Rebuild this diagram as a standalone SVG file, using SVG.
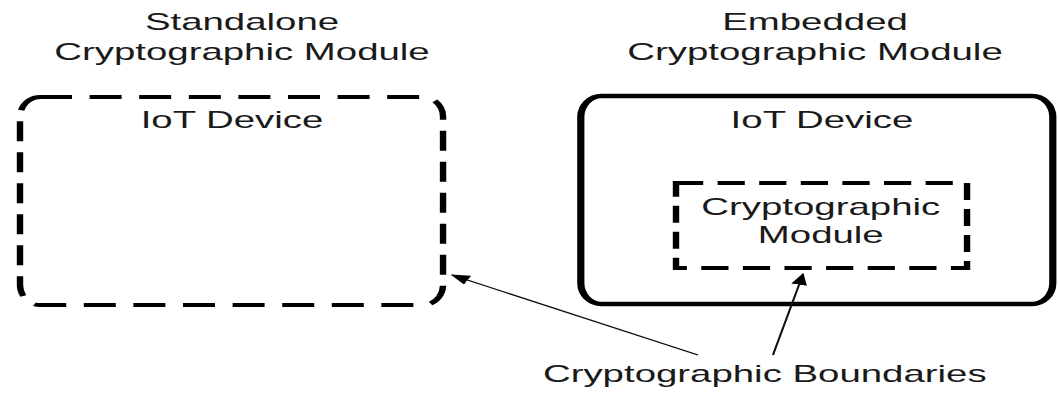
<svg xmlns="http://www.w3.org/2000/svg" width="1058" height="396" viewBox="0 0 1058 396">
<style>
  text { font-family: "Liberation Sans", Arial, sans-serif; font-size: 24px; fill: #1a1a1a; text-anchor: middle; }
  .dash { fill: none; stroke: #000; stroke-width: 4; stroke-dasharray: 20 11; }
  .dash2 { fill: none; stroke: #000; stroke-width: 4; stroke-dasharray: 17 9; }
  .solid { fill: none; stroke: #000; stroke-width: 4.5; }
  .conn { stroke: #111; stroke-width: 1.3; fill: none; }
</style>
<defs>
  <marker id="ah" markerUnits="userSpaceOnUse" markerWidth="12" markerHeight="10" viewBox="0 0 12 10" refX="11" refY="5" orient="auto">
    <path d="M0,0 L12,5 L0,10 Z" fill="#000"/>
  </marker>
</defs>
<rect width="1058" height="396" fill="#fff"/>
<g transform="scale(1.6,1)">
  <g id="title-standalone">
    <text x="151.25" y="30">Standalone</text>
    <text x="151.25" y="60">Cryptographic Module</text>
  </g>
  <g id="title-embedded">
    <text x="509.4" y="30">Embedded</text>
    <text x="509.4" y="60">Cryptographic Module</text>
  </g>
  <g id="standalone-device">
    <rect class="dash" x="12.5" y="97" width="264.4" height="208" rx="12.5" ry="20"/>
    <text x="145" y="128">IoT Device</text>
  </g>
  <g id="embedded-device">
    <rect class="solid" x="363" y="96" width="295" height="208" rx="13" ry="21"/>
    <text x="513.75" y="128">IoT Device</text>
  </g>
  <g id="crypto-module">
    <rect class="dash2" x="422.5" y="183" width="181.9" height="85"/>
    <text x="513" y="215">Cryptographic</text>
    <text x="513" y="243">Module</text>
  </g>
  <g id="boundaries-label">
    <text x="478" y="382">Cryptographic Boundaries</text>
  </g>
  <g id="connectors">
    <line class="conn" x1="436.25" y1="355" x2="282.5" y2="275" marker-end="url(#ah)"/>
    <line class="conn" x1="483.1" y1="355" x2="501.9" y2="274" marker-end="url(#ah)"/>
  </g>
</g>
</svg>
